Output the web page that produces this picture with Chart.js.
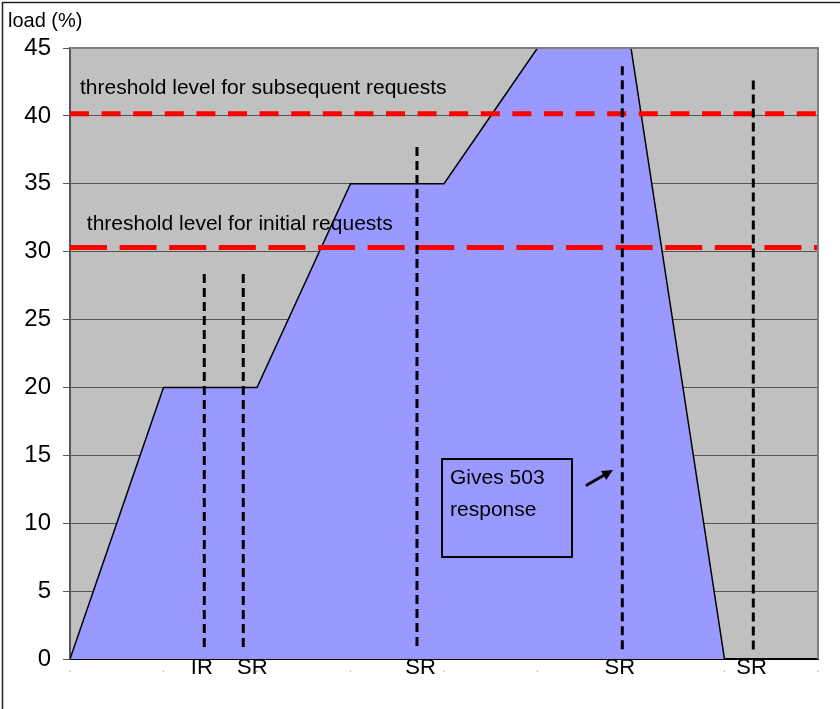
<!DOCTYPE html>
<html>
<head>
<meta charset="utf-8">
<script src="https://cdn.jsdelivr.net/npm/chart.js@4"></script>
<style>
    html, body { margin: 0; padding: 0; background: #fff; }
    #wrap { position: relative; width: 840px; height: 709px; }
</style>
</head>
<body>
<div id="wrap"><canvas id="grafica" width="840" height="709"></canvas></div>
<script>
// Datos de la grafica
const puntosX = [0, 1, 2, 3, 4, 5, 6, 7, 8];
const cargaValores = [0, 20, 20, 35, 35, 45, 45, 0, 0];
const ticksY = [0, 5, 10, 15, 20, 25, 30, 35, 40, 45];

const umbrales = [40.15, 30.3];
const umbralTextos = ["threshold level for subsequent requests", "threshold level for initial requests"];
const umbralTextoX = [0.107, 0.18];
const umbralTextoY = [41.6, 31.6];

const peticionTextos = ["IR", "SR", "SR", "SR", "SR"];
const peticionX = [1.436, 1.853, 3.711, 5.907, 7.308];
const peticionArriba = [28.35, 28.35, 37.7, 43.65, 42.6];
const peticionAbajo = [0.6, 0.6, 0.6, 0.6, 0.45];
const peticionTextoX = [1.41, 1.95, 3.75, 5.88, 7.29];

const notaLineas = ["Gives 503", "response"];

const FUENTE = '"Liberation Sans", Arial, sans-serif';

/**
 * Fondo gris del area y marco exterior
 */
const fondoPlugin = {
    id: "fondo",
    beforeDraw(chart) {
        const { ctx, chartArea: a } = chart;
        ctx.save();
        ctx.fillStyle = "#c0c0c0";
        ctx.fillRect(a.left, a.top, a.right - a.left, a.bottom - a.top);
        // marco exterior de la imagen
        ctx.strokeStyle = "#222";
        ctx.lineWidth = 1.5;
        ctx.beginPath();
        ctx.moveTo(2.5, 709);
        ctx.lineTo(2.5, 2.5);
        ctx.lineTo(840, 2.5);
        ctx.stroke();
        ctx.restore();
    },
    afterDraw(chart) {
        const { ctx, chartArea: a } = chart;
        ctx.save();
        ctx.strokeStyle = "#808080";
        ctx.lineWidth = 2;
        ctx.beginPath();
        ctx.moveTo(a.left, a.top);
        ctx.lineTo(a.right, a.top);
        ctx.lineTo(a.right, a.bottom);
        ctx.stroke();
        // titulo del eje
        ctx.fillStyle = "#000";
        ctx.font = "20px " + FUENTE;
        ctx.textBaseline = "alphabetic";
        ctx.fillText("load (%)", 8, 27);
        ctx.restore();
    },
};

/**
 * Textos de umbral, etiquetas IR/SR y nota de respuesta 503
 */
const textosPlugin = {
    id: "textos",
    afterDatasetsDraw(chart) {
        const { ctx } = chart;
        const x = chart.scales.x;
        const y = chart.scales.y;
        ctx.save();
        ctx.fillStyle = "#000";
        ctx.textBaseline = "alphabetic";

        ctx.font = "21px " + FUENTE;
        ctx.textAlign = "left";
        umbralTextos.forEach((t, i) => {
            ctx.fillText(t, x.getPixelForValue(umbralTextoX[i]), y.getPixelForValue(umbralTextoY[i]));
        });

        ctx.font = "22px " + FUENTE;
        ctx.textAlign = "center";
        ctx.textBaseline = "middle";
        peticionTextos.forEach((t, i) => {
            ctx.fillText(t, x.getPixelForValue(peticionTextoX[i]), y.bottom + 9);
        });

        // caja de la nota
        const bx1 = x.getPixelForValue(3.979);
        const bx2 = x.getPixelForValue(5.369);
        const by1 = y.getPixelForValue(14.73);
        const by2 = y.getPixelForValue(7.51);
        ctx.strokeStyle = "#000";
        ctx.lineWidth = 2;
        ctx.strokeRect(bx1, by1, bx2 - bx1, by2 - by1);
        ctx.font = "21px " + FUENTE;
        ctx.textAlign = "left";
        ctx.textBaseline = "alphabetic";
        ctx.fillText(notaLineas[0], bx1 + 8, by1 + 25);
        ctx.fillText(notaLineas[1], bx1 + 8, by1 + 57);

        // flecha
        const ax1 = x.getPixelForValue(5.529), ay1 = y.getPixelForValue(12.81);
        const ax2 = x.getPixelForValue(5.807), ay2 = y.getPixelForValue(13.92);
        const ang = Math.atan2(ay2 - ay1, ax2 - ax1);
        ctx.lineWidth = 3;
        ctx.lineCap = "round";
        ctx.beginPath();
        ctx.moveTo(ax1, ay1);
        ctx.lineTo(ax2 - 6 * Math.cos(ang), ay2 - 6 * Math.sin(ang));
        ctx.stroke();
        ctx.beginPath();
        ctx.moveTo(ax2, ay2);
        ctx.lineTo(ax2 - 12 * Math.cos(ang - 0.45), ay2 - 12 * Math.sin(ang - 0.45));
        ctx.lineTo(ax2 - 12 * Math.cos(ang + 0.45), ay2 - 12 * Math.sin(ang + 0.45));
        ctx.closePath();
        ctx.fill();
        ctx.restore();
    },
};

const datasets = [];

datasets.push({
    data: puntosX.map((v, i) => ({ x: v, y: cargaValores[i] })),
    borderColor: "#000",
    borderWidth: 1.5,
    backgroundColor: "#9999ff",
    fill: "origin",
    pointRadius: 0,
    tension: 0,
    order: 3,
});

const patronesRojos = [[19, 12.6], [37, 12.6]];
umbrales.forEach((u, i) => {
    datasets.push({
        data: [{ x: 0, y: u }, { x: 8, y: u }],
        borderColor: "#ff0000",
        borderWidth: 5,
        borderDash: patronesRojos[i],
        borderCapStyle: "butt",
        pointRadius: 0,
        fill: false,
        order: 2,
    });
});

peticionX.forEach((px, i) => {
    datasets.push({
        data: [{ x: px, y: peticionArriba[i] }, { x: px, y: peticionAbajo[i] }],
        borderColor: "#000",
        borderWidth: 3,
        borderDash: [9, 5],
        borderCapStyle: "butt",
        pointRadius: 0,
        fill: false,
        order: 1,
    });
});

new Chart(document.getElementById("grafica"), {
    type: "line",
    data: { datasets },
    options: {
        responsive: false,
        animation: false,
        events: [],
        layout: { padding: { top: 48, right: 22, left: 0, bottom: 0 } },
        plugins: { legend: { display: false }, tooltip: { enabled: false } },
        scales: {
            x: {
                type: "linear",
                min: 0,
                max: 8,
                afterFit: (s) => { s.height = 50; },
                afterBuildTicks: (s) => { s.ticks = puntosX.map((v) => ({ value: v })); },
                ticks: {
                    callback: () => ".",
                    color: "#9a9a9a",
                    font: { size: 10, family: FUENTE },
                    padding: 4,
                    maxRotation: 0,
                    autoSkip: false,
                },
                grid: { display: false, drawTicks: false },
                border: { display: true, color: "#000", width: 2 },
            },
            y: {
                min: 0,
                max: 45,
                afterFit: (s) => { s.width = 70; },
                afterBuildTicks: (s) => { s.ticks = ticksY.map((v) => ({ value: v })); },
                ticks: {
                    color: "#000",
                    font: { size: 24, family: FUENTE },
                    padding: 12,
                },
                grid: { color: "#555", lineWidth: 1, tickLength: 7 },
                border: { display: true, color: "#555", width: 2 },
            },
        },
    },
    plugins: [fondoPlugin, textosPlugin],
});
</script>
</body>
</html>
